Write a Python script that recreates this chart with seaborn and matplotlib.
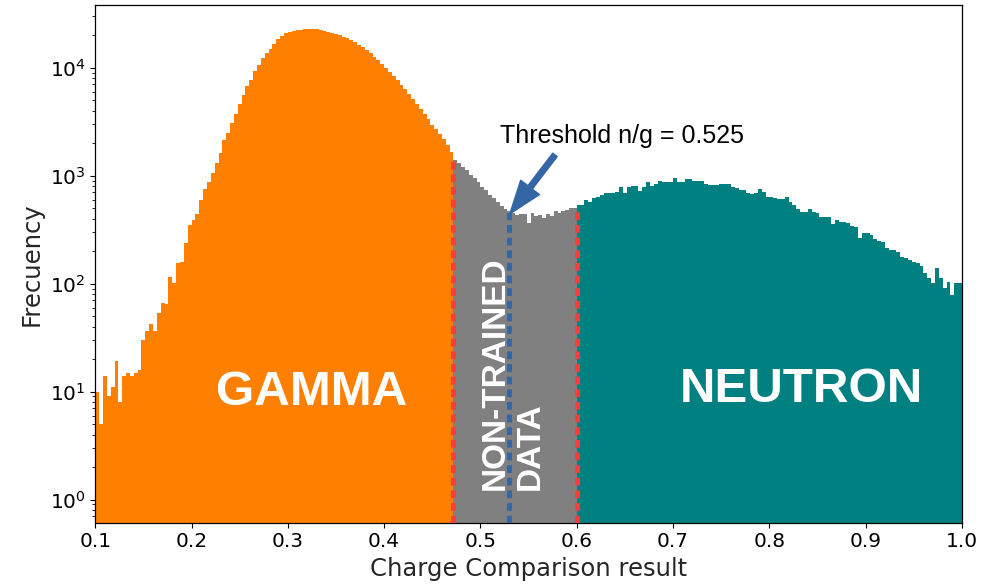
import numpy as np
import pandas as pd
import matplotlib
matplotlib.use("Agg")
import matplotlib.pyplot as plt
import seaborn as sns

# Histogram binning of the charge-comparison parameter
x_start = 0.1
bin_width = 0.004

# Counts per bin, gamma region (0.100 - 0.472)
gamma_counts = [
    10, 5, 14, 9, 11, 19, 8, 14, 15, 14,
    15, 16, 30, 36, 42, 36, 53, 66, 65, 116,
    101, 156, 160, 240, 345, 390, 445, 600, 748, 880,
    1066, 1303, 1633, 2140, 2500, 3097, 3702, 4614, 5590, 6770,
    7690, 9380, 10600, 12200, 13600, 14800, 16600, 18300, 19700, 20800,
    21550, 21860, 22200, 22440, 22700, 22800, 22750, 22590, 22340, 21980,
    21410, 20950, 20510, 19950, 19360, 18710, 18060, 17300, 16330, 15550,
    14590, 13680, 12650, 11780, 10820, 10000, 9180, 8380, 7690, 6960,
    6310, 5670, 5130, 4580, 4120, 3700, 3320, 2950, 2700, 2450,
    2200, 1930, 1650,
]

# Counts per bin, non-trained region (0.472 - 0.600)
nontrained_counts = [
    1400, 1300, 1210, 1130, 1020, 950, 880, 790, 730, 665,
    625, 575, 525, 490, 465, 450, 435, 445, 440, 365,
    455, 420, 435, 405, 445, 420, 465, 450, 465, 480,
    500, 505,
]

# Counts per bin, neutron region (0.600 - 1.000)
neutron_counts = [
    535, 535, 596, 567, 618, 640, 660, 697, 697, 697,
    700, 781, 687, 781, 803, 803, 726, 791, 869, 803,
    838, 899, 869, 869, 869, 946, 880, 880, 926, 926,
    899, 899, 890, 838, 820, 820, 820, 838, 838, 830,
    791, 764, 738, 738, 697, 673, 687, 748, 711, 640,
    640, 618, 604, 604, 640, 574, 535, 488, 464, 464,
    488, 464, 449, 412, 417, 417, 357, 389, 375, 375,
    362, 342, 333, 263, 293, 293, 282, 258, 250, 245,
    213, 205, 205, 198, 178, 172, 166, 157, 155, 144,
    125, 112, 101, 139, 112, 91, 104, 79, 101, 102,
]

region_colors = ["#ff8000", "#808080", "#008080"]
region_labels = ["GAMMA", "NON-TRAINED\nDATA", "NEUTRON"]

# Region limits and threshold
cut_low = 0.472
cut_high = 0.6
threshold_x = 0.53
threshold_text = "Threshold n/g = 0.525"
# Heights reached by the dashed markers (cut_low, threshold, cut_high)
marker_tops = [1450, 450, 490]

sns.set_style("ticks")
plt.rcParams["font.family"] = ["DejaVu Sans"]
plt.rcParams["axes.edgecolor"] = "black"
plt.rcParams["xtick.color"] = "black"
plt.rcParams["ytick.color"] = "black"

fig = plt.figure(figsize=(9.81, 5.87), dpi=100)
ax = fig.add_axes([0.0971, 0.1095, 0.8835, 0.882])

start_index = 0
for counts, color in zip([gamma_counts, nontrained_counts, neutron_counts], region_colors):
    n = len(counts)
    edges = x_start + bin_width * np.arange(start_index, start_index + n + 1)
    centers = 0.5 * (edges[:-1] + edges[1:])
    df = pd.DataFrame({"ccr": centers, "count": counts})
    sns.histplot(data=df, x="ccr", weights="count", bins=[float(e) for e in edges],
                 element="step", fill=True, color=color, alpha=1,
                 linewidth=0, ax=ax)
    start_index += n

ax.set_yscale("log")
ax.set_xlim(0.1, 1.0)
ax.set_ylim(0.61, 38000)

dash = (0, (1.6, 1.0))
ax.vlines(cut_low, 0.61, marker_tops[0], colors="#ff3b3b", linestyles=dash, linewidth=3.5, zorder=4)
ax.vlines(threshold_x, 0.61, marker_tops[1], colors="#3465a4", linestyles=dash, linewidth=3.5, zorder=4)
ax.vlines(cut_high, 0.61, marker_tops[2], colors="#ff3b3b", linestyles=dash, linewidth=3.5, zorder=4)

label_font = ["Liberation Sans", "DejaVu Sans"]
ax.text(0.325, 7.5, region_labels[0], color="white", fontsize=35.5, fontweight="bold",
        family=label_font, ha="center", va="baseline", zorder=5)
ax.text(0.8328, 8.0, region_labels[2], color="white", fontsize=35.5, fontweight="bold",
        family=label_font, ha="center", va="baseline", zorder=5)
ax.text(0.5335, 1.23, region_labels[1], color="white", fontsize=24, fontweight="bold",
        family=label_font, rotation=90, ha="center", va="bottom",
        multialignment="left", linespacing=1.15, zorder=5)

ax.text(0.6465, 2010, threshold_text, color="black", fontsize=18,
        family=label_font, ha="center", va="baseline", zorder=5)
ax.annotate("", xy=(0.5305, 442), xytext=(0.5774, 1555),
            arrowprops=dict(facecolor="#3465a4", edgecolor="#3465a4",
                            width=4, headwidth=17, headlength=24, shrink=0),
            zorder=6)

ax.set_xlabel("Charge Comparison result", fontsize=17.5)
ax.set_ylabel("Frecuency", fontsize=17.5)
ax.tick_params(axis="both", which="major", labelsize=14.5)
for side in ["top", "right", "left", "bottom"]:
    ax.spines[side].set_visible(True)
    ax.spines[side].set_linewidth(0.9)

fig.savefig("out.png", dpi=100)
